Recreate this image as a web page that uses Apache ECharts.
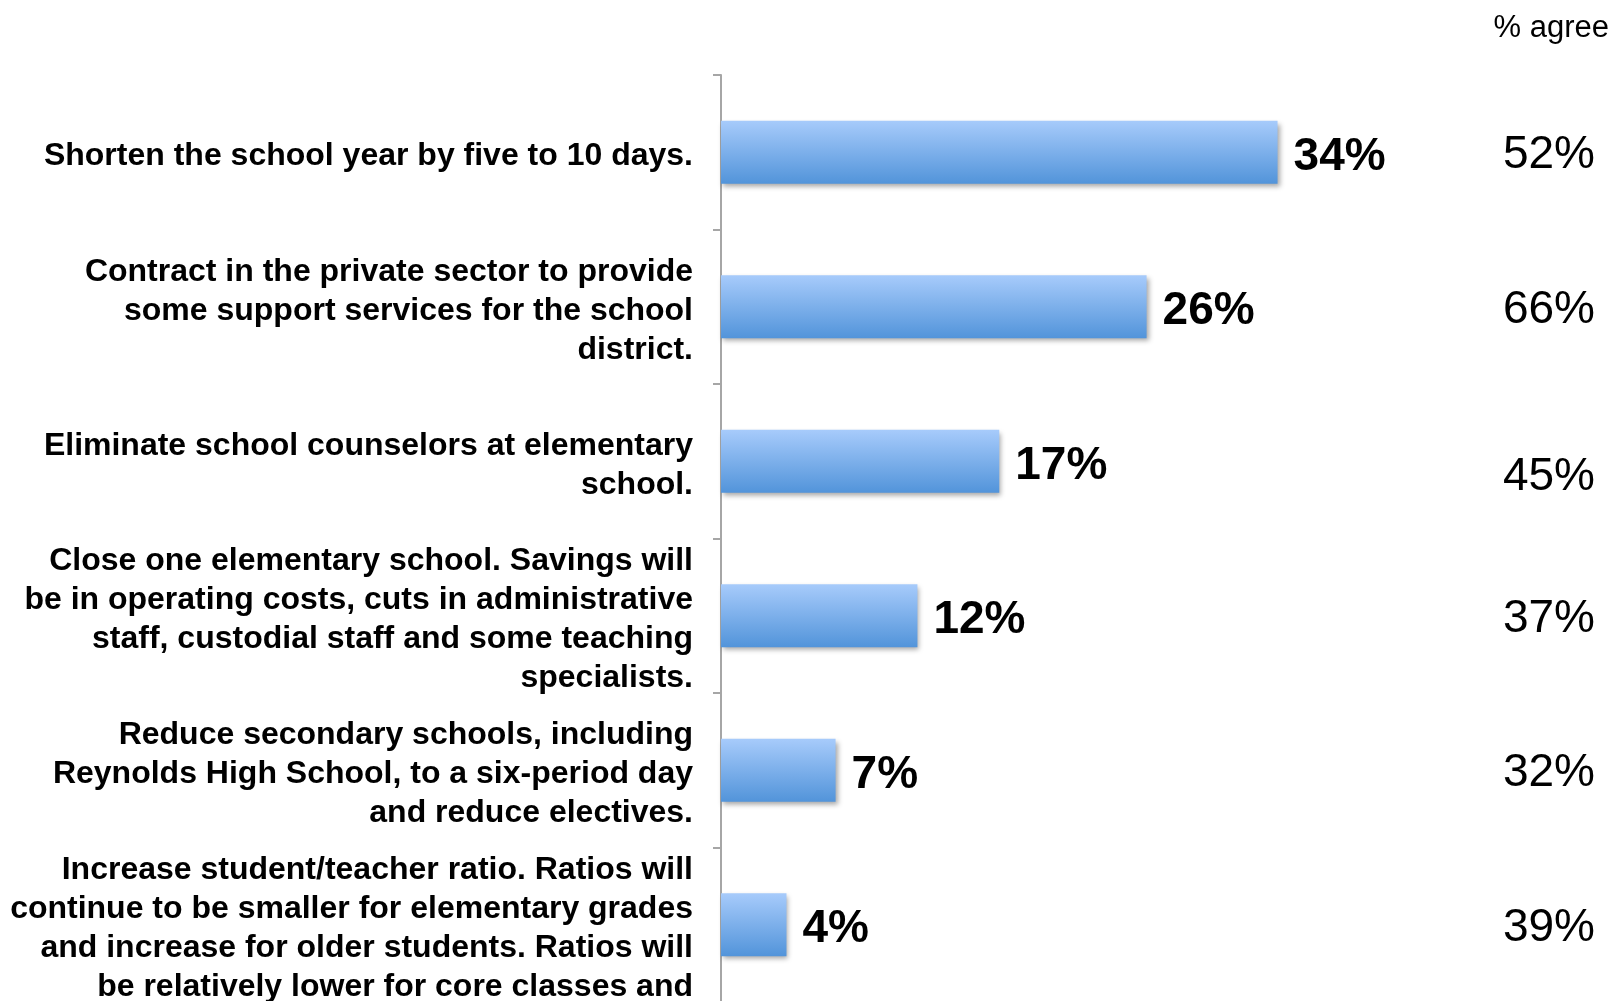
<!DOCTYPE html>
<html>
<head>
<meta charset="utf-8">
<script src="https://cdn.jsdelivr.net/npm/echarts@6/dist/echarts.min.js"></script>
<style>
html,body{margin:0;padding:0;background:#fff;}
#chart{width:1618px;height:1001px;}
</style>
</head>
<body>
<div id="chart"></div>
<script>
var categories = [
  "Shorten the school year by five to 10 days.",
  "Contract in the private sector to provide\nsome support services for the school\ndistrict.",
  "Eliminate school counselors at elementary\nschool.",
  "Close one elementary school. Savings will\nbe in operating costs, cuts in administrative\nstaff, custodial staff and some teaching\nspecialists.",
  "Reduce secondary schools, including\nReynolds High School, to a six-period day\nand reduce electives.",
  "Increase student/teacher ratio. Ratios will\ncontinue to be smaller for elementary grades\nand increase for older students. Ratios will\nbe relatively lower for core classes and"
];
var values = [34, 26, 17, 12, 7, 4];
var agreeValues = [52, 66, 45, 37, 32, 39];
var agreeTitle = "% agree";

var FONT = "'Liberation Sans', Arial, sans-serif";
var chart = echarts.init(document.getElementById('chart'));
chart.setOption({
  backgroundColor: '#ffffff',
  animation: false,
  title: {
    text: agreeTitle,
    right: 4,
    top: 8,
    textStyle: {fontFamily: FONT, fontSize: 31, fontWeight: 'normal', color: '#000'}
  },
  grid: {left: 721, top: 75, width: 825, height: 927, containLabel: false, outerBoundsMode: 'none'},
  xAxis: {
    type: 'value', min: 0, max: 50.4, show: false
  },
  yAxis: [{
    type: 'category',
    data: categories,
    inverse: true,
    axisLine: {show: true, lineStyle: {color: '#A6A6A6', width: 2}},
    axisTick: {show: true, length: 8, lineStyle: {color: '#A6A6A6', width: 2}},
    axisLabel: {
      margin: 28, fontFamily: FONT, fontSize: 32, fontWeight: 'bold',
      color: '#000', align: 'right',
      formatter: function (v) {
        return v.split('\n').map(function (l) { return '{a|' + l + '}'; }).join('\n');
      },
      rich: {
        a: {fontFamily: FONT, fontSize: 32, fontWeight: 'bold', color: '#000',
            lineHeight: 39, padding: [8, 0, 0, 0], align: 'right'}
      }
    },
    splitLine: {show: false}
  }, {
    type: 'category',
    data: agreeValues,
    inverse: true,
    position: 'right',
    axisLine: {show: false},
    axisTick: {show: false},
    axisLabel: {
      margin: 49, align: 'right', fontFamily: FONT, fontSize: 46, color: '#000',
      formatter: function (v, i) { return i === 2 ? '{low|' + v + '%}' : '{n|' + v + '%}'; },
      rich: {
        n: {fontFamily: FONT, fontSize: 46, color: '#000', padding: [7, 0, 0, 0]},
        low: {fontFamily: FONT, fontSize: 46, color: '#000', padding: [32, 0, 0, 0]}
      }
    }
  }],
  series: [{
    type: 'bar',
    data: values,
    yAxisIndex: 0,
    barWidth: 63,
    itemStyle: {
      color: new echarts.graphic.LinearGradient(0, 0, 0, 1, [
        {offset: 0, color: '#A7CBFB'},
        {offset: 1, color: '#5294DA'}
      ]),
      shadowColor: 'rgba(0,0,0,0.35)',
      shadowBlur: 5,
      shadowOffsetX: 2,
      shadowOffsetY: 3
    },
    label: {
      show: true, position: 'right', distance: 16, offset: [0, 5],
      formatter: '{c}%',
      fontFamily: FONT, fontSize: 46, fontWeight: 'bold', color: '#000'
    }
  }]
});
</script>
</body>
</html>
